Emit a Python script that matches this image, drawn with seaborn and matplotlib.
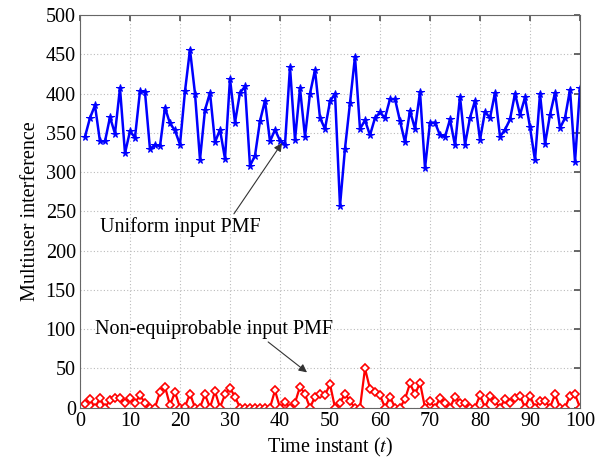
import numpy as np
import pandas as pd
import matplotlib
matplotlib.use("Agg")
import matplotlib.pyplot as plt
import seaborn as sns

t = list(range(1, 101))
uniform_mui = [
    345, 369, 385, 339, 339, 370, 349, 407, 324, 352,
    344, 403, 402, 329, 335, 333, 382, 362, 353, 335,
    403, 456, 400, 316, 379, 401, 338, 354, 317, 419,
    363, 401, 409, 308, 321, 365, 391, 339, 354, 340,
    335, 434, 341, 407, 345, 400, 430, 369, 355, 390,
    400, 257, 330, 388, 447, 355, 366, 347, 369, 376,
    369, 393, 393, 365, 338, 378, 355, 402, 305, 363,
    363, 347, 345, 367, 334, 396, 335, 369, 391, 341,
    377, 369, 401, 345, 354, 367, 400, 373, 395, 357,
    315, 400, 336, 373, 401, 356, 369, 405, 313, 407,
]
nonequi_mui = [
    5, 11, 0, 12, 0, 10, 13, 12, 6, 13,
    6, 16, 6, 0, 0, 20, 27, 3, 20, 0,
    1, 18, 0, 0, 17, 0, 21, 0, 17, 25,
    14, 0, 0, 0, 0, 0, 0, 0, 22, 0,
    7, 0, 6, 27, 17, 0, 14, 17, 16, 30,
    0, 6, 18, 8, 0, 0, 50, 24, 20, 16,
    0, 14, 0, 0, 11, 31, 17, 32, 0, 8,
    0, 12, 6, 0, 14, 6, 6, 0, 0, 16,
    0, 15, 8, 0, 11, 6, 12, 15, 0, 15,
    0, 9, 9, 0, 17, 0, 0, 15, 17, 0,
]
x_ticks = list(range(0, 101, 10))
y_ticks = list(range(0, 501, 50))

sns.set_theme(style="white")
plt.rcParams['font.family'] = ['Liberation Serif', 'DejaVu Serif']
plt.rcParams['mathtext.fontset'] = 'stix'

df = pd.DataFrame({"t": t, "uniform": uniform_mui, "nonequi": nonequi_mui})

fig = plt.figure(figsize=(6.05, 4.62), dpi=100)
ax = fig.add_axes([0.1322, 0.1175, 0.8265, 0.85])

sns.lineplot(data=df, x="t", y="uniform", ax=ax, color="#0000ff", linewidth=1.8,
             marker="*", markersize=5.5, markeredgecolor="#0000ff", markerfacecolor="#0000ff")
sns.lineplot(data=df, x="t", y="nonequi", ax=ax, color="#ff0000", linewidth=1.6,
             marker="D", markersize=3.6, markeredgecolor="#ff0000", markerfacecolor="white",
             markeredgewidth=1.2)

ax.set_xlim(0, 100)
ax.set_ylim(0, 500)
ax.set_xticks(x_ticks)
ax.set_yticks(y_ticks)
ax.tick_params(direction="in", top=True, right=True, labelsize=14.5, length=4,
               color="#555555", pad=3, labelcolor="black")
ax.grid(True, linestyle=(0, (1, 2)), color="#bbbbbb", linewidth=0.8)
for s in ax.spines.values():
    s.set_color("#666666")
    s.set_linewidth(0.8)

ax.set_xlabel("Time instant ($t$)", fontsize=14.5, color="black")
ax.set_ylabel("Multiuser interference", fontsize=14.5, labelpad=4, color="black")

ax.annotate("Uniform input PMF", xy=(40.4, 337), xytext=(4, 230),
            fontsize=14.5, va="center", ha="left", color="black",
            arrowprops=dict(arrowstyle="-|>", color="#333333", lw=0.8,
                            shrinkA=0, shrinkB=0, mutation_scale=12,
                            relpos=(0.82, 1.0)))
ax.annotate("Non-equiprobable input PMF", xy=(45.4, 45), xytext=(3, 100),
            fontsize=14.5, va="center", ha="left", color="black",
            arrowprops=dict(arrowstyle="-|>", color="#333333", lw=0.8,
                            shrinkA=0, shrinkB=0, mutation_scale=12,
                            relpos=(0.71, 0.0)))

fig.savefig("out.png", dpi=100)
